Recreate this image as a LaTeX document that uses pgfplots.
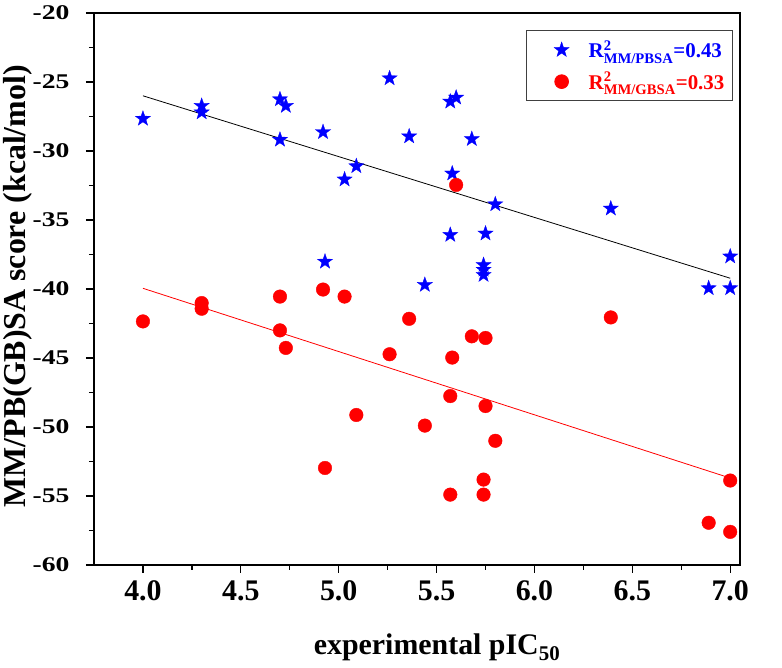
\documentclass[border=0pt]{standalone}
\usepackage{fontspec}
\setmainfont{Liberation Serif}
\usepackage{amsmath}
\usepackage{graphicx}
\usepackage{pgfplots}
\pgfplotsset{compat=1.18}
\pgfdeclareplotmark{fstar}{%
  \pgfpathmoveto{\pgfpointpolar{90}{\pgfplotmarksize}}%
  \pgfpathlineto{\pgfpointpolar{126}{0.40\pgfplotmarksize}}%
  \pgfpathlineto{\pgfpointpolar{162}{\pgfplotmarksize}}%
  \pgfpathlineto{\pgfpointpolar{198}{0.40\pgfplotmarksize}}%
  \pgfpathlineto{\pgfpointpolar{234}{\pgfplotmarksize}}%
  \pgfpathlineto{\pgfpointpolar{270}{0.40\pgfplotmarksize}}%
  \pgfpathlineto{\pgfpointpolar{306}{\pgfplotmarksize}}%
  \pgfpathlineto{\pgfpointpolar{342}{0.40\pgfplotmarksize}}%
  \pgfpathlineto{\pgfpointpolar{18}{\pgfplotmarksize}}%
  \pgfpathlineto{\pgfpointpolar{54}{0.40\pgfplotmarksize}}%
  \pgfpathclose
  \pgfusepathqfillstroke
}
\begin{document}
\begin{tikzpicture}
\begin{axis}[
  scale only axis, width=646bp, height=552bp,
  xmin=3.75, xmax=7.05, ymin=-60, ymax=-20,
  xtick={4,4.5,5,5.5,6,6.5,7}, ytick={-60,-55,-50,-45,-40,-35,-30,-25,-20},
  minor x tick num=1, minor y tick num=1,
  tick align=outside, tick pos=left,
  major tick length=8bp, minor tick length=5bp,
  axis line style={line width=1.6bp},
  every tick/.style={black, line width=1.3bp},
  /pgf/number format/assume math mode=true,
  xticklabel style={/pgf/number format/fixed, /pgf/number format/precision=1, /pgf/number format/fixed zerofill,
    font=\fontsize{30}{30}\selectfont\bfseries},
  xticklabel shift=4bp,
  yticklabel={\scalebox{1.32}[1]{\pgfmathprintnumber{\tick}}},
  yticklabel style={font=\fontsize{21}{21}\selectfont\bfseries},
  yticklabel shift=13bp,
  xlabel={experimental pIC\textsubscript{50}},
  ylabel={MM/PB(GB)SA score (kcal/mol)},
  xlabel style={font=\fontsize{30}{30}\selectfont\bfseries, at={(axis description cs:0.531,-0.163)}, anchor=base},
  ylabel style={font=\fontsize{32}{32}\selectfont\bfseries, at={(axis description cs:-0.1068,0.505)}, anchor=base},
  legend style={draw=black!75, line width=1bp, at={(0.989,0.969)}, anchor=north east,
    font=\fontsize{21}{21}\selectfont\bfseries, inner xsep=4bp, inner ysep=6bp, row sep=5bp,
    column sep=0bp, nodes={inner sep=4bp}},
  legend image code/.code={\path[draw=none,fill=none] (0bp,-4bp) rectangle (54bp,4bp); \draw[#1] plot coordinates {(31bp,0bp)};},
  legend cell align=left,
]
\addplot[only marks, color=blue, mark=fstar, mark size=8bp, mark options={fill=blue, draw=blue, line width=0.3bp}] coordinates {
(4.00,-27.66) (4.30,-26.73) (4.30,-27.2) (4.70,-26.25) (4.73,-26.73) (4.70,-29.18)
(4.92,-28.63) (5.26,-24.73) (5.36,-28.94) (5.09,-31.1) (5.03,-32.06) (4.93,-38.02)
(5.44,-39.7) (5.57,-26.42) (5.60,-26.13) (5.68,-29.13) (5.58,-31.63) (5.80,-33.86)
(5.57,-36.08) (5.75,-35.98) (5.74,-38.26) (5.74,-38.6) (5.74,-38.98) (6.39,-34.17)
(7.00,-37.64) (6.89,-39.94) (7.00,-39.94)
};
\addlegendentry{\textcolor{blue}{R$^{\text{2}}_{\text{MM/PBSA}}$=0.43}}
\addplot[only marks, color=red, mark=*, mark size=6.8bp, mark options={fill=red, draw=red}] coordinates {
(4.00,-42.35) (4.30,-41.02) (4.30,-41.43) (4.70,-40.55) (4.70,-43.0) (4.73,-44.27)
(4.92,-40.04) (5.03,-40.55) (5.36,-42.16) (5.26,-44.73) (5.09,-49.13) (5.44,-49.9)
(4.93,-52.97) (6.39,-42.06) (5.68,-43.43) (5.75,-43.55) (5.58,-44.97) (5.57,-47.76)
(5.75,-48.48) (5.80,-51.0) (5.74,-53.81) (5.74,-54.9) (5.57,-54.9) (6.89,-56.94)
(7.00,-57.6) (7.00,-53.88) (5.60,-32.46)
};
\addlegendentry{\textcolor{red}{R$^{\text{2}}_{\text{MM/GBSA}}$=0.33}}
\addplot[black, line width=0.8bp, forget plot] coordinates {(4.0,-26.0) (7.0,-39.22)};
\addplot[red, line width=0.8bp, forget plot] coordinates {(4.0,-39.95) (7.0,-53.7)};
\end{axis}
\pgfresetboundingbox
\path ([xshift=-94bp,yshift=-103bp]current axis.south west) rectangle ([xshift=42bp,yshift=13bp]current axis.north east);
\end{tikzpicture}
\end{document}
